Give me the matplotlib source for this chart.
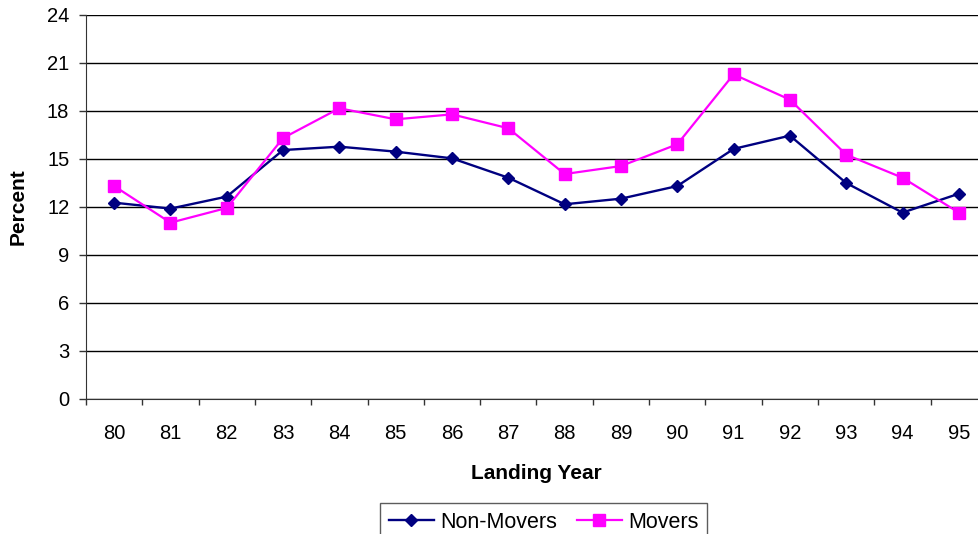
import matplotlib
matplotlib.use("Agg")
import matplotlib.pyplot as plt

plt.rcParams['font.family'] = ['Liberation Sans', 'DejaVu Sans']

years = ["80", "81", "82", "83", "84", "85", "86", "87",
         "88", "89", "90", "91", "92", "93", "94", "95"]
non_movers = [12.27, 11.9, 12.65, 15.56, 15.77, 15.46, 15.04, 13.83,
              12.17, 12.52, 13.31, 15.63, 16.46, 13.5, 11.65, 12.83]
movers = [13.31, 11.02, 11.94, 16.31, 18.17, 17.48, 17.79, 16.92,
          14.06, 14.56, 15.92, 20.29, 18.71, 15.27, 13.83, 11.65]
y_ticks = [0, 3, 6, 9, 12, 15, 18, 21, 24]

W, H = 979, 534
fig = plt.figure(figsize=(W / 100, H / 100), dpi=100)
ax = fig.add_axes([86 / W, 135 / H, 901 / W, 384 / H])

x = list(range(len(years)))
ax.plot(x, non_movers, color='#000080', lw=1.7, marker='D', ms=6.5,
        mec='#000080', mfc='#000080', label='Non-Movers', zorder=3)
ax.plot(x, movers, color='#FF00FF', lw=1.6, marker='s', ms=9,
        mec='#FF00FF', mfc='#FF00FF', label='Movers', zorder=3)

ax.set_xlim(-0.5, len(years) - 0.5)
ax.set_ylim(0, 24)
ax.set_yticks(y_ticks)
ax.set_yticklabels([str(v) for v in y_ticks], fontsize=14.5)
ax.set_xticks([i - 0.5 for i in range(len(years) + 1)])
ax.set_xticklabels([])
ax.set_xticks(x, minor=True)
ax.set_xticklabels(years, minor=True, fontsize=14.5)
ax.tick_params(axis='x', which='minor', length=0, pad=18)
ax.tick_params(axis='x', which='major', direction='out', length=4, width=1, color='#333333')
ax.tick_params(axis='y', direction='out', length=5, width=1, color='#333333', pad=7)

ax.yaxis.grid(True, color='black', lw=1)
ax.set_axisbelow(True)
for side in ['top', 'right']:
    ax.spines[side].set_visible(False)
ax.spines['left'].set_color('#333333')
ax.spines['bottom'].set_color('#333333')

ax.set_xlabel('Landing Year', fontsize=15, fontweight='bold', labelpad=15)
ax.set_ylabel('Percent', fontsize=15, fontweight='bold', labelpad=14)

leg = fig.legend(loc='upper left', bbox_to_anchor=(380 / W, 1 - 503 / H),
                 ncol=2, fontsize=15.5, frameon=True, fancybox=False,
                 edgecolor='#333333', handlelength=2.1, columnspacing=0.9,
                 handletextpad=0.3, borderpad=0.4, borderaxespad=0)
leg.get_frame().set_linewidth(1)

fig.savefig('out.png', dpi=100)
